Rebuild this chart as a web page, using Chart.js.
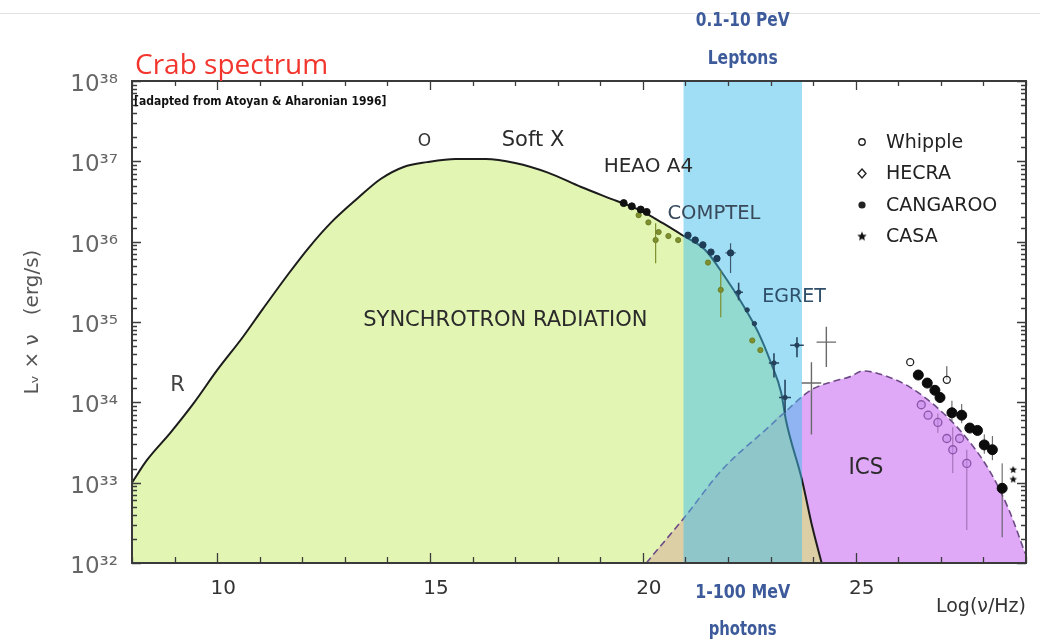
<!DOCTYPE html>
<html>
<head>
<meta charset="utf-8">
<script src="https://cdn.jsdelivr.net/npm/chart.js@4.4.1/dist/chart.umd.min.js"></script>
<style>
html,body{margin:0;padding:0;background:#fff;}
#wrap{width:1040px;height:644px;position:relative;}
</style>
</head>
<body>
<div id="wrap"><canvas id="c"></canvas></div>
<script>
// ---------------- DATA (x = log10(nu/Hz), y = log10(L_nu*nu / erg s^-1)) ----------------
const synchrotronLogNu = [8.0, 8.35, 8.9, 9.45, 10.0, 10.6, 11.07, 11.69, 12.16, 12.68, 13.3, 13.84, 14.38, 14.93, 15.6, 16.31, 17.0, 17.77, 18.55, 19.32, 19.94, 20.47, 20.93, 21.46, 21.93, 22.32, 22.71, 23.01, 23.25, 23.36, 23.74, 23.98, 24.2];
const synchrotronLogL  = [33.0, 33.28, 33.62, 33.99, 34.40, 34.81, 35.16, 35.61, 35.93, 36.24, 36.54, 36.78, 36.93, 36.99, 37.03, 37.03, 36.98, 36.86, 36.68, 36.52, 36.39, 36.23, 36.08, 35.90, 35.56, 35.24, 34.87, 34.49, 34.12, 33.78, 33.03, 32.45, 32.0];

const icsLogNu = [20.08, 20.98, 21.86, 22.95, 23.32, 23.94, 24.4, 24.87, 25.17, 25.8, 26.27, 26.9, 27.5, 28.13, 28.6, 28.98];
const icsLogL  = [32.0, 32.57, 33.16, 33.69, 33.87, 34.15, 34.25, 34.32, 34.39, 34.31, 34.19, 33.94, 33.62, 33.16, 32.66, 32.12];
const crossingLogNu = 23.33;

const leptonBandLogNu = [20.95, 23.74];

// observations
const heaoLogNu = [19.55, 19.74, 19.95, 20.09];
const heaoLogL  = [36.48, 36.44, 36.40, 36.37];

const lowGammaLogNu = [19.90, 20.13, 20.30, 20.37, 20.60, 20.83, 21.53, 21.83, 22.57, 22.76];
const lowGammaLogL  = [36.33, 36.24, 36.02, 36.12, 36.07, 36.02, 35.74, 35.40, 34.77, 34.65];
const lowGammaErrLo = [null, null, 35.73, null, null, null, null, 35.06, null, null];
const lowGammaErrHi = [null, null, 36.23, null, null, null, null, 35.64, null, null];
const lowGammaErrX  = [0, 0, 0, 0, 0, 0, 0, 0, 0, 0];

const comptelLogNu = [21.06, 21.23, 21.41, 21.60, 21.74, 22.06];
const comptelLogL  = [36.08, 36.02, 35.96, 35.87, 35.79, 35.86];
const comptelErrLo = [null, null, null, null, null, 35.61];
const comptelErrHi = [null, null, null, null, null, 35.98];
const comptelErrX  = [0, 0, 0, 0, 0, 0.12];

const egretLogNu = [22.25, 22.45, 22.62, 23.08, 23.34, 23.62];
const egretLogL  = [35.37, 35.15, 34.98, 34.49, 34.06, 34.71];
const egretErrLo = [35.27, null, null, 34.31, 33.87, 34.56];
const egretErrHi = [35.49, null, null, 34.61, 34.28, 34.81];
const egretErrX  = [0.10, 0, 0, 0.12, 0.14, 0.16];

const upperLogNu = [24.31, 23.96];
const upperLogL  = [34.75, 34.24];
const upperErrLo = [34.44, 33.60];
const upperErrHi = [34.94, 34.50];
const upperErrX  = [0.23, 0.23];

const whippleLogNu = [26.28, 27.14];
const whippleLogL  = [34.50, 34.28];
const whippleErrLo = [null, 34.28];
const whippleErrHi = [null, 34.45];

const hegraLogNu = [26.54, 26.70, 26.93, 27.14, 27.28, 27.44, 27.61];
const hegraLogL  = [33.97, 33.84, 33.75, 33.55, 33.41, 33.55, 33.24];
const hegraErrLo = [null, null, 33.62, null, 33.12, null, 32.41];
const hegraErrHi = [null, null, 33.86, null, 33.69, null, 33.41];

const cangarooLogNu = [26.47, 26.68, 26.86, 26.98, 27.26, 27.49, 27.68, 27.86, 28.02, 28.21, 28.44];
const cangarooLogL  = [34.34, 34.24, 34.15, 34.06, 33.87, 33.84, 33.68, 33.65, 33.47, 33.41, 32.93];
const cangarooErrLo = [null, null, null, null, 33.76, 33.74, null, null, 33.36, 33.28, 32.32];
const cangarooErrHi = [null, null, null, null, 34.02, 33.98, null, null, 33.60, 33.58, 33.24];

const casaLogNu = [28.70, 28.70];
const casaLogL  = [33.16, 33.04];

const xTickLabels = [10, 15, 20, 25];
const yDecades = [32, 33, 34, 35, 36, 37, 38];

const annotationTexts = ['O', 'Soft X', 'HEAO A4', 'COMPTEL', 'EGRET', 'SYNCHROTRON RADIATION', 'R', 'ICS'];
const annotationLogNu = [14.87, 17.42, 20.13, 21.67, 23.55, 16.77, 9.07, 25.24];
const annotationLogL  = [37.24, 37.26, 36.93, 36.35, 35.31, 35.02, 34.21, 33.18];

const legendNames = ['Whipple', 'HECRA', 'CANGAROO', 'CASA'];

// ---------------- helpers ----------------
const P = v => Math.pow(10, v);
const toPts = (xs, ys) => xs.map((x, i) => ({x: x, y: P(ys[i])}));
function errSegments(xs, ys, lo, hi, xe) {
  const out = [];
  xs.forEach((x, i) => {
    if (lo && lo[i] != null) { out.push({x: x, y: P(lo[i])}, {x: x, y: P(hi[i])}, {x: x, y: null}); }
    if (xe && xe[i]) { out.push({x: x - xe[i], y: P(ys[i])}, {x: x + xe[i], y: P(ys[i])}, {x: x, y: null}); }
  });
  return out;
}
const SUP = {'0':'⁰','1':'¹','2':'²','3':'³','4':'⁴','5':'⁵','6':'⁶','7':'⁷','8':'⁸','9':'⁹'};
const sup = n => String(n).split('').map(c => SUP[c]).join('');
function starCanvas(r, color) {
  const s = Math.ceil(r * 2 + 2), c = document.createElement('canvas');
  c.width = s; c.height = s;
  const g = c.getContext('2d');
  g.fillStyle = color; g.beginPath();
  for (let i = 0; i < 10; i++) {
    const a = -Math.PI / 2 + i * Math.PI / 5, rr = i % 2 ? r * 0.45 : r;
    g.lineTo(s / 2 + rr * Math.cos(a), s / 2 + rr * Math.sin(a));
  }
  g.closePath(); g.fill();
  return c;
}

const syncPts = toPts(synchrotronLogNu, synchrotronLogL);
const icsPts = toPts(icsLogNu, icsLogL);
const overlapPts = icsPts.filter(p => p.x <= crossingLogNu).concat(syncPts.filter(p => p.x > crossingLogNu));

const lineBase = {type: 'line', pointRadius: 0, pointHoverRadius: 0, cubicInterpolationMode: 'monotone', spanGaps: false};
const errBase = {type: 'line', pointRadius: 0, pointHoverRadius: 0, borderWidth: 1.2, fill: false, spanGaps: false, tension: 0};

const datasets = [
  Object.assign({}, lineBase, {label: 'synchrotron area', data: syncPts, fill: 'start', backgroundColor: '#e2f5b3', borderWidth: 0, borderColor: 'rgba(0,0,0,0)', order: 20}),
  Object.assign({}, lineBase, {label: 'ICS area', data: icsPts, fill: 'start', backgroundColor: '#dfa9f7', borderWidth: 0, borderColor: 'rgba(0,0,0,0)', order: 19}),
  Object.assign({}, lineBase, {label: 'overlap', data: overlapPts, fill: 'start', backgroundColor: '#dccfa6', borderWidth: 0, borderColor: 'rgba(0,0,0,0)', order: 18}),
  Object.assign({}, lineBase, {label: 'synchrotron', data: syncPts, fill: false, borderColor: '#1c1c1c', borderWidth: 2, order: 17}),
  Object.assign({}, lineBase, {label: 'ICS', data: icsPts, fill: false, borderColor: '#6d4a86', borderWidth: 1.6, borderDash: [7, 4], order: 16}),
  {type: 'line', label: '0.1-10 PeV leptons', data: leptonBandLogNu.map(x => ({x: x, y: 1e38})), fill: 'start', backgroundColor: 'rgba(65,189,235,0.5)', borderWidth: 0, pointRadius: 0, order: 15},
  // error bars
  Object.assign({}, errBase, {label: 'err low gamma', data: errSegments(lowGammaLogNu, lowGammaLogL, lowGammaErrLo, lowGammaErrHi, lowGammaErrX), borderColor: '#7d8f2e', order: 9}),
  Object.assign({}, errBase, {label: 'err comptel', data: errSegments(comptelLogNu, comptelLogL, comptelErrLo, comptelErrHi, comptelErrX), borderColor: '#3d5a70', order: 9}),
  Object.assign({}, errBase, {label: 'err egret', data: errSegments(egretLogNu, egretLogL, egretErrLo, egretErrHi, egretErrX), borderColor: '#274560', borderWidth: 1.6, order: 9}),
  Object.assign({}, errBase, {label: 'err upper', data: errSegments(upperLogNu, upperLogL, upperErrLo, upperErrHi, upperErrX), borderColor: '#6a6a6a', borderWidth: 1.4, order: 9}),
  Object.assign({}, errBase, {label: 'err whipple', data: errSegments(whippleLogNu, whippleLogL, whippleErrLo, whippleErrHi, null), borderColor: '#444', borderWidth: 1, order: 9}),
  Object.assign({}, errBase, {label: 'err hegra', data: errSegments(hegraLogNu, hegraLogL, hegraErrLo, hegraErrHi, null), borderColor: '#9a6ab0', borderWidth: 1, order: 9}),
  Object.assign({}, errBase, {label: 'err cangaroo', data: errSegments(cangarooLogNu, cangarooLogL, cangarooErrLo, cangarooErrHi, null), borderColor: '#555', borderWidth: 1, order: 9}),
  // points
  {type: 'scatter', label: 'HEAO A4', data: toPts(heaoLogNu, heaoLogL), pointStyle: 'circle', pointRadius: 3.5, backgroundColor: '#111', borderColor: '#111', order: 5},
  {type: 'scatter', label: 'low gamma', data: toPts(lowGammaLogNu, lowGammaLogL), pointStyle: 'circle', pointRadius: 2.6, backgroundColor: '#7d8f2e', borderColor: '#6f8028', order: 5},
  {type: 'scatter', label: 'COMPTEL', data: toPts(comptelLogNu, comptelLogL), pointStyle: 'circle', pointRadius: 3.2, backgroundColor: '#1f3d56', borderColor: '#1f3d56', order: 5},
  {type: 'scatter', label: 'EGRET', data: toPts(egretLogNu, egretLogL), pointStyle: 'circle', pointRadius: 2.2, backgroundColor: '#24425c', borderColor: '#24425c', order: 5},
  {type: 'scatter', label: 'Whipple', data: toPts(whippleLogNu, whippleLogL), pointStyle: 'circle', pointRadius: 3.5, borderWidth: 1.3, backgroundColor: 'rgba(255,255,255,0.6)', borderColor: '#222', order: 4},
  {type: 'scatter', label: 'HECRA', data: toPts(hegraLogNu, hegraLogL), pointStyle: 'circle', pointRadius: 4, borderWidth: 1.3, backgroundColor: 'rgba(200,140,235,0.5)', borderColor: '#8a55a8', order: 4},
  {type: 'scatter', label: 'CANGAROO', data: toPts(cangarooLogNu, cangarooLogL), pointStyle: 'circle', pointRadius: 5, backgroundColor: '#0c0c0c', borderColor: '#0c0c0c', order: 3},
  {type: 'scatter', label: 'CASA', data: toPts(casaLogNu, casaLogL), pointStyle: starCanvas(4, '#111'), order: 3}
];

// ---------------- plugins ----------------
const framePlugin = {
  id: 'frame',
  beforeDraw(chart) {
    const ctx = chart.ctx;
    ctx.save();
    ctx.fillStyle = '#fff'; ctx.fillRect(0, 0, chart.width, chart.height);
    ctx.strokeStyle = '#e3e3e3'; ctx.lineWidth = 1;
    ctx.beginPath(); ctx.moveTo(0, 13.5); ctx.lineTo(chart.width, 13.5); ctx.stroke();
    ctx.restore();
  },
  afterDatasetsDraw(chart) {
    const {ctx, chartArea: a, scales: {x, y}} = chart;
    ctx.save();
    ctx.strokeStyle = '#3c3c3c'; ctx.lineWidth = 1.3;
    ctx.beginPath();
    x.ticks.forEach(t => {
      const px = Math.round(x.getPixelForValue(t.value)) + 0.5;
      const major = t.value % 5 === 0;
      ctx.moveTo(px, a.bottom); ctx.lineTo(px, a.bottom - (major ? 10 : 6));
      ctx.moveTo(px, a.top); ctx.lineTo(px, a.top + (major ? 9 : 5));
    });
    y.ticks.forEach(t => {
      const py = Math.round(y.getPixelForValue(t.value)) + 0.5;
      const l = Math.log10(t.value);
      const major = Math.abs(l - Math.round(l)) < 1e-6;
      ctx.moveTo(a.left, py); ctx.lineTo(a.left + (major ? 9 : 5), py);
      ctx.moveTo(a.right, py); ctx.lineTo(a.right - (major ? 9 : 5), py);
    });
    ctx.stroke();
    ctx.lineWidth = 2; ctx.strokeStyle = '#3a3a3a';
    ctx.strokeRect(a.left, a.top, a.right - a.left, a.bottom - a.top);
    ctx.restore();
  }
};

const textPlugin = {
  id: 'texts',
  afterDraw(chart) {
    const {ctx, chartArea: a, scales: {x, y}} = chart;
    ctx.save();
    ctx.textAlign = 'center'; ctx.textBaseline = 'middle';
    const fonts = ['17px "DejaVu Sans"', '21px "DejaVu Sans"', '20px "DejaVu Sans"', '20px "DejaVu Sans"', '19px "DejaVu Sans"', '21px "DejaVu Sans"', '21px "DejaVu Sans"', '23px "DejaVu Sans"'];
    const colors = ['#333', '#2b2b2b', '#2b2b2b', '#38495a', '#2f4e6a', '#2a2a2a', '#444', '#2a2a2a'];
    const widths = [null, 67, 90, 93, 65, 314, null, 35];
    annotationTexts.forEach((t, i) => {
      ctx.font = fonts[i]; ctx.fillStyle = colors[i];
      const px = x.getPixelForValue(annotationLogNu[i]);
      const py = y.getPixelForValue(P(annotationLogL[i]));
      if (widths[i]) ctx.fillText(t, px, py, widths[i]); else ctx.fillText(t, px, py);
    });

    // band labels
    const bx = x.getPixelForValue((leptonBandLogNu[0] + leptonBandLogNu[1]) / 2);
    ctx.fillStyle = '#3d5b9b';
    ctx.font = 'bold 19px "DejaVu Sans Condensed"';
    ctx.fillText('0.1-10 PeV', bx, 21, 94);
    ctx.fillText('Leptons', bx, 59, 70);
    ctx.fillText('1-100 MeV', bx, 593, 95);
    ctx.fillText('photons', bx, 630, 68);

    // title & credit
    ctx.textAlign = 'left';
    ctx.fillStyle = '#f2352d';
    ctx.font = '28px "Open Sans"';
    ctx.fillText('Crab spectrum', a.left + 3, 66, 214);
    ctx.fillStyle = '#111';
    ctx.font = 'bold 12px "DejaVu Sans Condensed"';
    ctx.fillText('[adapted from Atoyan & Aharonian 1996]', a.left + 2, 102, 274);

    // legend
    const lx = 862, ly0 = 142, dy = 31.5;
    ctx.font = '19px "DejaVu Sans"';
    legendNames.forEach((n, i) => {
      const ly = ly0 + i * dy;
      ctx.fillStyle = '#222'; ctx.strokeStyle = '#222'; ctx.lineWidth = 1.4;
      ctx.beginPath();
      if (i === 0) { ctx.arc(lx, ly, 3.2, 0, Math.PI * 2); ctx.stroke(); }
      else if (i === 1) { ctx.moveTo(lx, ly - 4.5); ctx.lineTo(lx + 4, ly); ctx.lineTo(lx, ly + 4.5); ctx.lineTo(lx - 4, ly); ctx.closePath(); ctx.stroke(); }
      else if (i === 2) { ctx.arc(lx, ly, 3.6, 0, Math.PI * 2); ctx.fill(); }
      else { ctx.drawImage(starCanvas(5, '#111'), lx - 6, ly - 6); }
      ctx.fillStyle = '#222';
      ctx.fillText(n, 886, ly + 1);
    });
    ctx.restore();
  }
};

new Chart(document.getElementById('c'), {
  type: 'scatter',
  data: {datasets: datasets},
  options: {
    responsive: true,
    maintainAspectRatio: false,
    animation: false,
    events: [],
    layout: {padding: {top: 81, right: 3, bottom: 0, left: 0}},
    plugins: {legend: {display: false}, tooltip: {enabled: false}},
    scales: {
      x: {
        type: 'linear', min: 8, max: 29,
        afterFit: s => { s.height = 81; },
        grid: {display: false, drawTicks: false},
        border: {display: false},
        ticks: {
          stepSize: 1, maxTicksLimit: 100, autoSkip: false, maxRotation: 0, padding: 14, labelOffset: 6,
          color: '#333', font: {family: 'DejaVu Sans', size: 20},
          callback: v => xTickLabels.includes(v) ? String(v) : ''
        },
        title: {display: true, text: 'Log(ν/Hz)', align: 'end', color: '#333', font: {family: 'DejaVu Sans', size: 19}, padding: {top: 0, bottom: 26}}
      },
      y: {
        type: 'logarithmic', min: P(yDecades[0]), max: P(yDecades[yDecades.length - 1]),
        afterFit: s => { s.width = 132; },
        grid: {display: false, drawTicks: false},
        border: {display: false},
        ticks: {
          autoSkip: false, padding: 14, labelOffset: 4,
          color: '#666', font: {family: 'DejaVu Sans', size: 23},
          callback: v => {
            const l = Math.log10(v), r = Math.round(l);
            return (Math.abs(l - r) < 1e-6 && yDecades.includes(r)) ? '10' + sup(r) : '';
          }
        },
        title: {display: true, text: 'Lᵥ × ν   (erg/s)', color: '#555', font: {family: 'DejaVu Sans', size: 20}, padding: {top: 21, bottom: 0}}
      }
    }
  },
  plugins: [framePlugin, textPlugin]
});
</script>
</body>
</html>
